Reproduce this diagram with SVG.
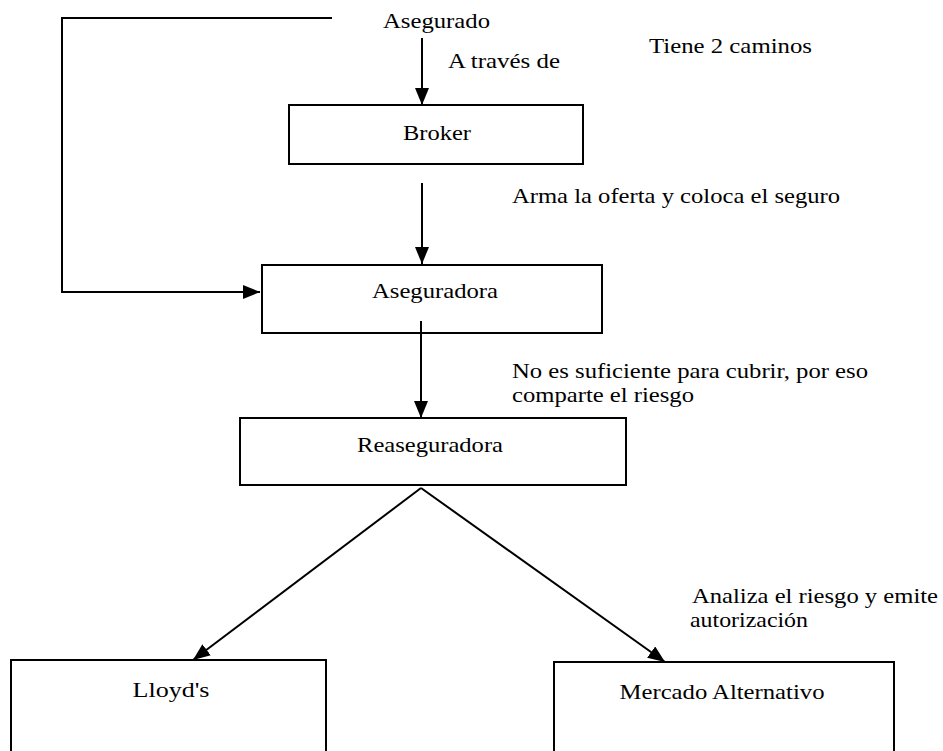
<svg xmlns="http://www.w3.org/2000/svg" width="943" height="751" viewBox="0 0 943 751">
<style>
  text { font-family: "Liberation Serif", "Times New Roman", serif; font-size: 22px; fill: #000; }
  .box { fill: #fff; stroke: #000; stroke-width: 2; }
  .ln { fill: none; stroke: #000; stroke-width: 2; }
</style>
<defs>
  <marker id="arr" viewBox="0 0 17 14" refX="17" refY="7" markerWidth="17" markerHeight="14" markerUnits="userSpaceOnUse" orient="auto">
    <path d="M0,0 L17,7 L0,14 z" fill="#000"/>
  </marker>
</defs>
<rect width="943" height="751" fill="#fff"/>

<g id="connectors">
  <polyline class="ln" points="332,18 62,18 62,292 260,292" marker-end="url(#arr)"/>
  <line class="ln" x1="422" y1="38" x2="422" y2="105" marker-end="url(#arr)"/>
  <line class="ln" x1="422" y1="183" x2="422" y2="264" marker-end="url(#arr)"/>
  <line class="ln" x1="421" y1="321" x2="421" y2="418" marker-end="url(#arr)"/>
  <line class="ln" x1="421" y1="488" x2="193" y2="660" marker-end="url(#arr)"/>
  <line class="ln" x1="421" y1="488" x2="665" y2="662" marker-end="url(#arr)"/>
</g>

<g id="asegurado">
  <text x="383" y="28" textLength="107" lengthAdjust="spacingAndGlyphs">Asegurado</text>
</g>
<g id="broker">
  <rect class="box" x="289" y="105" width="294" height="59"/>
  <text x="437" y="140" text-anchor="middle" textLength="68" lengthAdjust="spacingAndGlyphs">Broker</text>
</g>
<g id="aseguradora">
  <rect class="box" x="262" y="265" width="340" height="68" fill="none" style="fill:none"/>
  <text x="372" y="298" textLength="126" lengthAdjust="spacingAndGlyphs">Aseguradora</text>
</g>
<g id="reaseguradora">
  <rect class="box" x="240" y="418" width="386" height="67"/>
  <text x="430" y="452" text-anchor="middle" textLength="146" lengthAdjust="spacingAndGlyphs">Reaseguradora</text>
</g>
<g id="lloyds">
  <rect class="box" x="11" y="660" width="315" height="100"/>
  <text x="171" y="697" text-anchor="middle" textLength="77" lengthAdjust="spacingAndGlyphs">Lloyd's</text>
</g>
<g id="mercado">
  <rect class="box" x="554" y="662" width="340" height="100"/>
  <text x="722" y="699" text-anchor="middle" textLength="205" lengthAdjust="spacingAndGlyphs">Mercado Alternativo</text>
</g>

<g id="labels">
  <text x="448" y="68" textLength="112" lengthAdjust="spacingAndGlyphs">A través de</text>
  <text x="649" y="53" textLength="163" lengthAdjust="spacingAndGlyphs">Tiene 2 caminos</text>
  <text x="512" y="203" textLength="328" lengthAdjust="spacingAndGlyphs">Arma la oferta y coloca el seguro</text>
  <text x="512" y="378" textLength="356" lengthAdjust="spacingAndGlyphs">No es suficiente para cubrir, por eso</text>
  <text x="512" y="402" textLength="182" lengthAdjust="spacingAndGlyphs">comparte el riesgo</text>
  <text x="692" y="603" textLength="246" lengthAdjust="spacingAndGlyphs">Analiza el riesgo y emite</text>
  <text x="690" y="627" textLength="118" lengthAdjust="spacingAndGlyphs">autorización</text>
</g>
</svg>
